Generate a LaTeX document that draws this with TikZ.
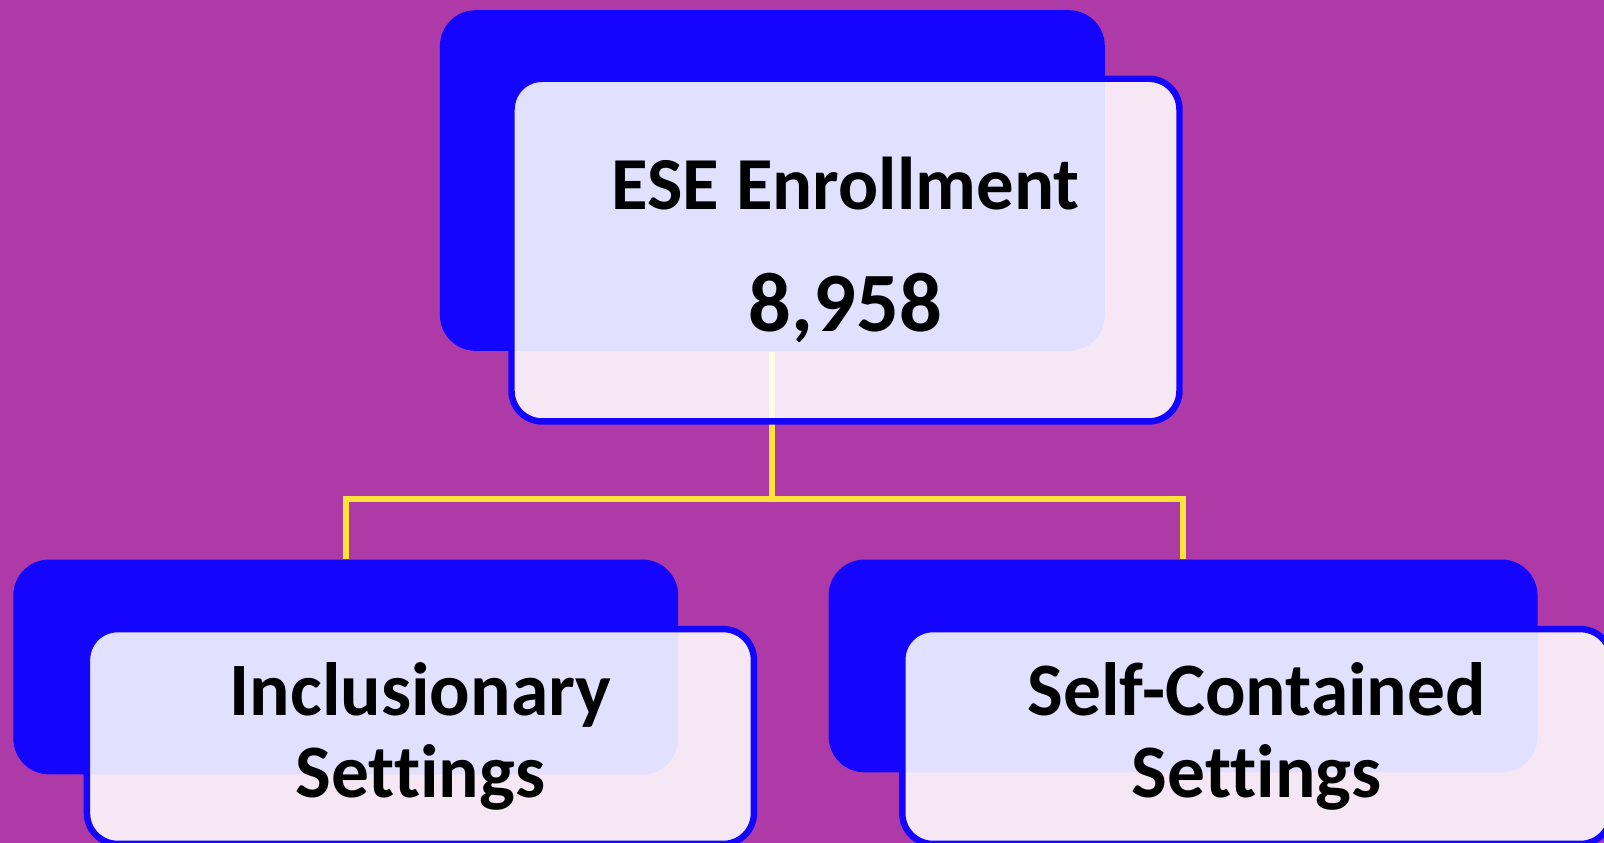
\documentclass[tikz,border=0pt]{standalone}
\usepackage{fontspec}
\setmainfont{Carlito}[Ligatures=NoCommon]
\usetikzlibrary{calc}

\definecolor{bgpurple}{RGB}{174,58,168}
\definecolor{boxblue}{RGB}{20,5,255}
\definecolor{linkyellow}{RGB}{255,226,58}

\begin{document}
\begin{tikzpicture}
    \tikzset{
        backbox/.style={rectangle, rounded corners=0.35cm, fill=boxblue, inner sep=0pt, minimum width=6.5cm},
        frontbox/.style={rectangle, rounded corners=0.3cm, draw=boxblue, line width=1.8pt,
            fill=white, fill opacity=0.88, text opacity=1, inner sep=0pt, minimum width=6.52cm,
            align=center, font=\bfseries\fontsize{21}{22.8}\selectfont},
        link/.style={linkyellow, line width=1.6pt}
    }

    \fill[bgpurple] (0,0) rectangle (15.68,8.24);
    \useasboundingbox (0,0) rectangle (15.68,8.24);

    \node[backbox, minimum height=3.33cm] (ese_back) at (7.55,6.475) {};
    \node[backbox, minimum height=2.1cm] (inc_back) at (3.38,1.72) {};
    \node[backbox, minimum width=6.93cm, minimum height=2.08cm] (self_back) at (11.565,1.73) {};

    \coordinate (fork) at ($(ese_back.south)+(0,-1.44)$);
    \draw[link] (ese_back.south) -- (fork);
    \draw[link] (fork) -| (inc_back.north);
    \draw[link] (fork) -| (self_back.north);

    \node[frontbox, minimum width=6.53cm, minimum height=3.35cm] (ese) at (8.265,5.795)
        {\fontsize{20.8}{25}\selectfont ESE Enrollment\\[11pt]\fontsize{23.5}{28}\selectfont 8,958};
    \node[frontbox, minimum height=2.1cm] (inc) at (4.11,1.04) {Inclusionary\\Settings};
    \node[frontbox, minimum width=6.93cm, minimum height=2.1cm] (self) at (12.285,1.04) {Self-Contained\\Settings};

\end{tikzpicture}
\end{document}
